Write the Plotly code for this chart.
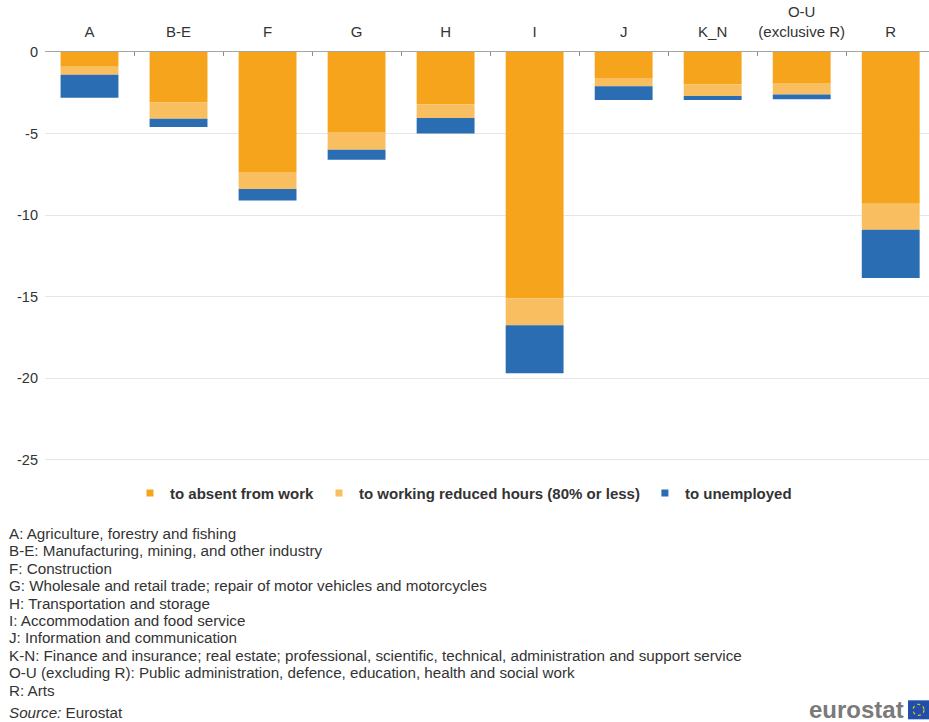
import plotly.graph_objects as go

# Sectors (NACE groupings) shown as columns
sectors = ["A", "B-E", "F", "G", "H", "I", "J", "K_N", "O-U<br>(exclusive R)", "R"]

# Percentage-point changes in employment status, by sector
absent_from_work = [-0.9, -3.1, -7.35, -4.9, -3.2, -15.1, -1.6, -2.0, -1.9, -9.3]
reduced_hours = [-0.5, -1.0, -1.05, -1.1, -0.85, -1.65, -0.5, -0.7, -0.7, -1.6]
unemployed = [-1.4, -0.5, -0.7, -0.6, -0.95, -2.95, -0.85, -0.25, -0.3, -2.95]

series_names = [
    "to absent from work",
    "to working reduced hours (80% or less)",
    "to unemployed",
]
series_colors = ["#F7A41D", "#F8BE5F", "#2A6DB2"]

sector_notes = [
    "A: Agriculture, forestry and fishing",
    "B-E: Manufacturing, mining, and other industry",
    "F: Construction",
    "G: Wholesale and retail trade; repair of motor vehicles and motorcycles",
    "H: Transportation and storage",
    "I: Accommodation and food service",
    "J: Information and communication",
    "K-N: Finance and insurance; real estate; professional, scientific, technical, administration and support service",
    "O-U (excluding R): Public administration, defence, education, health and social work",
    "R: Arts",
]

y_ticks = [0, -5, -10, -15, -20, -25]

FONT = "Liberation Sans, Arial, sans-serif"
TEXT = "#333333"

W, H = 929, 722
TOP, BOTTOM = 52, 462.8
LEFT = 45


def py(px):
    """Convert a pixel row into paper coordinates of the plot area."""
    return (BOTTOM - px) / (BOTTOM - TOP)


def px_x(px):
    return (px - LEFT) / (W - LEFT)


fig = go.Figure()
for name, color, vals in zip(series_names, series_colors,
                             [absent_from_work, reduced_hours, unemployed]):
    fig.add_trace(go.Bar(
        x=sectors, y=vals, name=name, legendgroup=name, showlegend=False,
        marker=dict(color=color, line=dict(width=0)),
        width=0.65,
    ))
    # small square key for the legend
    fig.add_trace(go.Scatter(
        x=[None], y=[None], mode="markers", name=name, legendgroup=name,
        marker=dict(symbol="square", size=7, color=color),
        hoverinfo="skip",
    ))

annotations = []
for i, line in enumerate(sector_notes):
    annotations.append(dict(
        xref="paper", yref="paper", x=px_x(7), y=py(533 + i * 17.45),
        xanchor="left", yanchor="middle", showarrow=False,
        text=line, font=dict(family=FONT, size=15.2, color=TEXT),
    ))
annotations.append(dict(
    xref="paper", yref="paper", x=px_x(7), y=py(712),
    xanchor="left", yanchor="middle", showarrow=False,
    text="<i>Source:</i> Eurostat", font=dict(family=FONT, size=15.2, color=TEXT),
))
annotations.append(dict(
    xref="paper", yref="paper", x=px_x(906), y=py(709),
    xanchor="right", yanchor="middle", showarrow=False,
    text="<b>eurostat</b>", font=dict(family=FONT, size=24, color="#7A7A7A"),
))

shapes = [
    dict(type="rect", xref="paper", yref="paper",
         x0=px_x(908), x1=px_x(929), y0=py(719), y1=py(700),
         fillcolor="#1F4FA8", line=dict(width=0), layer="above"),
    dict(type="circle", xref="paper", yref="paper",
         x0=px_x(913), x1=px_x(924), y0=py(715), y1=py(704),
         line=dict(color="#E8C21A", width=1.2, dash="dot"), layer="above"),
]

fig.update_layout(
    width=W, height=H,
    barmode="relative",
    bargap=0.35,
    paper_bgcolor="white", plot_bgcolor="white",
    margin=dict(l=LEFT, r=0, t=TOP, b=H - BOTTOM, autoexpand=False),
    font=dict(family=FONT, size=13, color=TEXT),
    showlegend=True,
    legend=dict(
        orientation="h", x=px_x(130), xanchor="left", y=py(493), yanchor="middle",
        font=dict(family=FONT, size=15, color=TEXT, weight="bold"),
        itemwidth=30, tracegroupgap=0, traceorder="normal",
        bgcolor="rgba(0,0,0,0)",
    ),
    xaxis=dict(
        side="top", type="category", automargin=False, tickangle=0,
        range=[-0.5, 9.43],
        tickson="boundaries", ticks="inside", ticklen=4, tickcolor="#8C8C8C",
        showline=True, linecolor="#A6A6A6", linewidth=1.2,
        showgrid=False, zeroline=False, ticklabelstandoff=8,
        tickfont=dict(family=FONT, size=15, color=TEXT),
    ),
    yaxis=dict(
        range=[-25.2, 0], tickvals=y_ticks, ticktext=[str(v) for v in y_ticks],
        automargin=False,
        showgrid=True, gridcolor="#E6E6E6", gridwidth=1,
        zeroline=False, showline=False, ticks="", ticklabelstandoff=6,
        tickfont=dict(family=FONT, size=14.5, color=TEXT),
    ),
    annotations=annotations,
    shapes=shapes,
)

fig.write_html("out.html")
